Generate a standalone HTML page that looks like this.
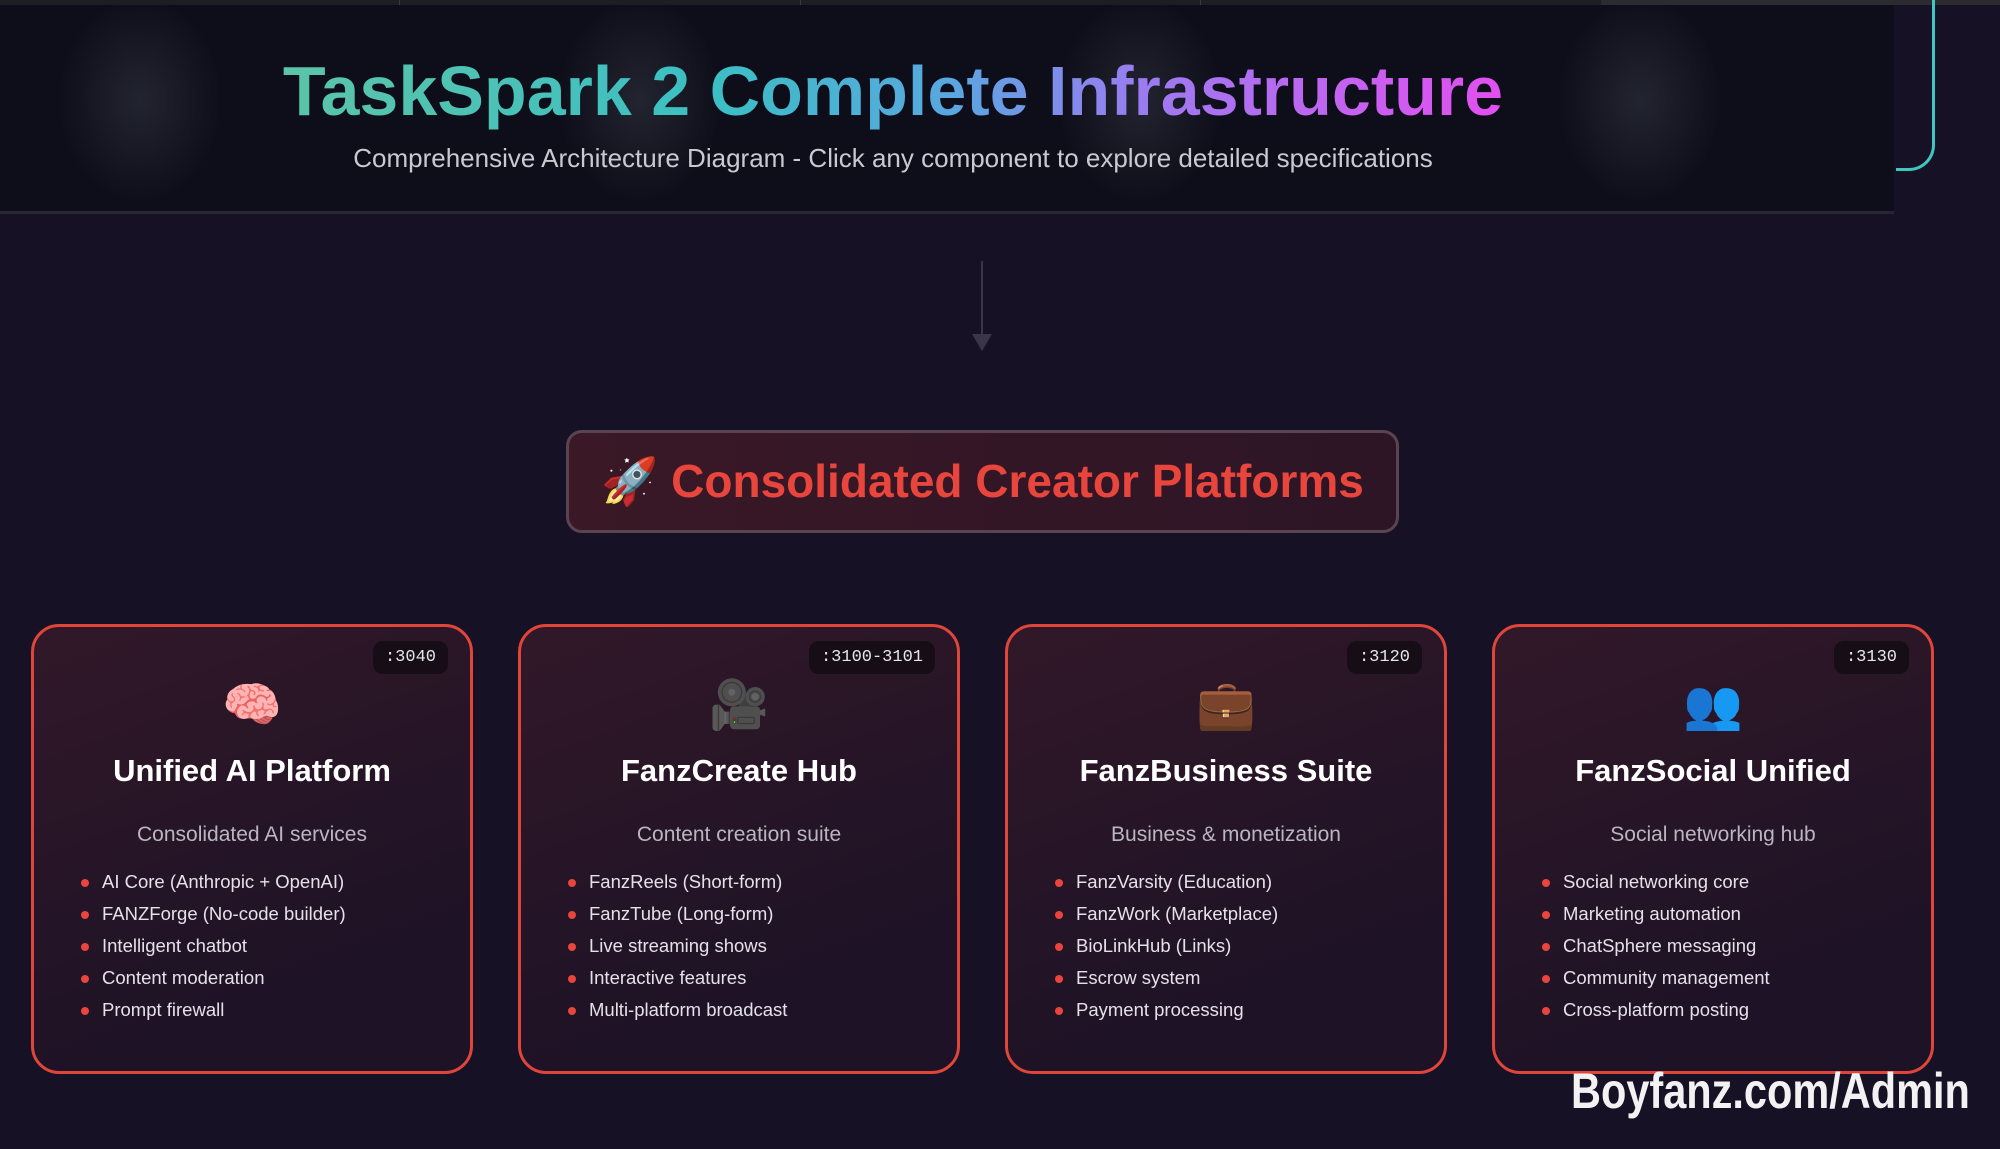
<!DOCTYPE html>
<html><head><meta charset="utf-8"><style>
*{margin:0;padding:0;box-sizing:border-box}
body{width:2000px;height:1149px;background:#171126;overflow:hidden;position:relative;font-family:"Liberation Sans","DejaVu Sans",sans-serif}
.topbar{position:absolute;left:0;top:0;width:2000px;height:5px;background:#1e1e22}
.topbar div{position:absolute;top:0;width:1px;height:5px;background:#3a3a40}
.header{position:absolute;left:0;top:5px;width:1894px;height:209px;background:#0d0e19;border-bottom:3px solid #2a2535;overflow:hidden}
.blob{position:absolute;top:-20px;width:220px;height:230px;background:radial-gradient(ellipse 50% 60% at center,rgba(55,58,70,.5),rgba(13,14,25,0) 75%)}
.teal{position:absolute;left:1896px;top:0;width:39px;height:171px;border-right:3px solid #3fc6c0;border-bottom:3px solid #3fc6c0;border-bottom-right-radius:26px}
.title{position:absolute;left:0;width:1786px;top:46px;text-align:center;font-weight:bold;font-size:70px;line-height:80px;white-space:nowrap}
.title span{background:linear-gradient(90deg,#5cc4a8 0%,#3bbfc4 35%,#5aa6e0 55%,#9a7cf0 70%,#e34ff0 100%);-webkit-background-clip:text;background-clip:text;color:transparent}
.sub{position:absolute;left:0;width:1786px;top:138px;text-align:center;font-size:26px;color:#c9c9d2;white-space:nowrap}
.arrow{position:absolute;left:981px;top:261px;width:2px;height:76px;background:#3a3648}
.ah{position:absolute;left:972px;top:334px;width:0;height:0;border-left:10px solid transparent;border-right:10px solid transparent;border-top:17px solid #3a3648}
.cons{position:absolute;left:566px;top:430px;width:833px;height:103px;border:3px solid #5a4450;border-radius:16px;background:linear-gradient(90deg,#3a1826,#2d1526);display:flex;align-items:center;justify-content:center;font-weight:bold;font-size:46px;color:#e8453c;white-space:nowrap}
.card{position:absolute;top:624px;width:442px;height:450px;border:3px solid #e0453a;border-radius:28px;background:linear-gradient(160deg,#311828,#1d1226 80%)}
.badge{position:absolute;right:22px;top:14px;height:33px;padding:0 12px;border-radius:10px;background:#160d16;color:#e6e6ea;font-family:"Liberation Mono",monospace;font-size:17px;line-height:33px}
.emo{position:absolute;left:0;width:100%;top:48px;text-align:center;font-size:48px;line-height:60px;font-family:"Noto Color Emoji","DejaVu Sans",sans-serif}
.ct{position:absolute;left:0;width:100%;top:126px;text-align:center;font-weight:bold;font-size:31px;color:#fff}
.cd{position:absolute;left:0;width:100%;top:196px;text-align:center;font-size:21px;color:#b9b6c0}
ul{position:absolute;left:68px;top:239px;list-style:none}
li{font-size:18.5px;color:#e4e2e8;height:32px;line-height:32px;position:relative;white-space:nowrap}
li:before{content:"";position:absolute;left:-21px;top:13px;width:8px;height:8px;border-radius:50%;background:#e8453c}
.wm{position:absolute;left:1571px;top:1062px;font-weight:bold;font-size:50px;color:#f2f2f2;white-space:nowrap;transform:scaleX(.83);transform-origin:left top;font-family:"Liberation Sans Narrow","Liberation Sans",sans-serif}
</style></head><body>
<div class="topbar"><div style="left:399px"></div><div style="left:800px"></div><div style="left:1200px"></div><div style="left:1601px;width:399px;background:#2c2c30"></div></div>
<div class="header">
<div class="blob" style="left:30px"></div><div class="blob" style="left:530px"></div><div class="blob" style="left:1030px"></div><div class="blob" style="left:1530px"></div>
<div class="title"><span>TaskSpark 2 Complete Infrastructure</span></div>
<div class="sub">Comprehensive Architecture Diagram - Click any component to explore detailed specifications</div>
</div>
<div class="teal"></div>
<div class="arrow"></div><div class="ah"></div>
<div class="cons">🚀&nbsp;Consolidated Creator Platforms</div>

<div class="card" style="left:31px"><div class="badge">:3040</div><div class="emo">🧠</div><div class="ct">Unified AI Platform</div><div class="cd">Consolidated AI services</div>
<ul><li>AI Core (Anthropic + OpenAI)</li><li>FANZForge (No-code builder)</li><li>Intelligent chatbot</li><li>Content moderation</li><li>Prompt firewall</li></ul></div>

<div class="card" style="left:518px"><div class="badge">:3100-3101</div><div class="emo">🎥</div><div class="ct">FanzCreate Hub</div><div class="cd">Content creation suite</div>
<ul><li>FanzReels (Short-form)</li><li>FanzTube (Long-form)</li><li>Live streaming shows</li><li>Interactive features</li><li>Multi-platform broadcast</li></ul></div>

<div class="card" style="left:1005px"><div class="badge">:3120</div><div class="emo">💼</div><div class="ct">FanzBusiness Suite</div><div class="cd">Business &amp; monetization</div>
<ul><li>FanzVarsity (Education)</li><li>FanzWork (Marketplace)</li><li>BioLinkHub (Links)</li><li>Escrow system</li><li>Payment processing</li></ul></div>

<div class="card" style="left:1492px"><div class="badge">:3130</div><div class="emo">👥</div><div class="ct">FanzSocial Unified</div><div class="cd">Social networking hub</div>
<ul><li>Social networking core</li><li>Marketing automation</li><li>ChatSphere messaging</li><li>Community management</li><li>Cross-platform posting</li></ul></div>

<div class="wm">Boyfanz.com/Admin</div>
</body></html>
